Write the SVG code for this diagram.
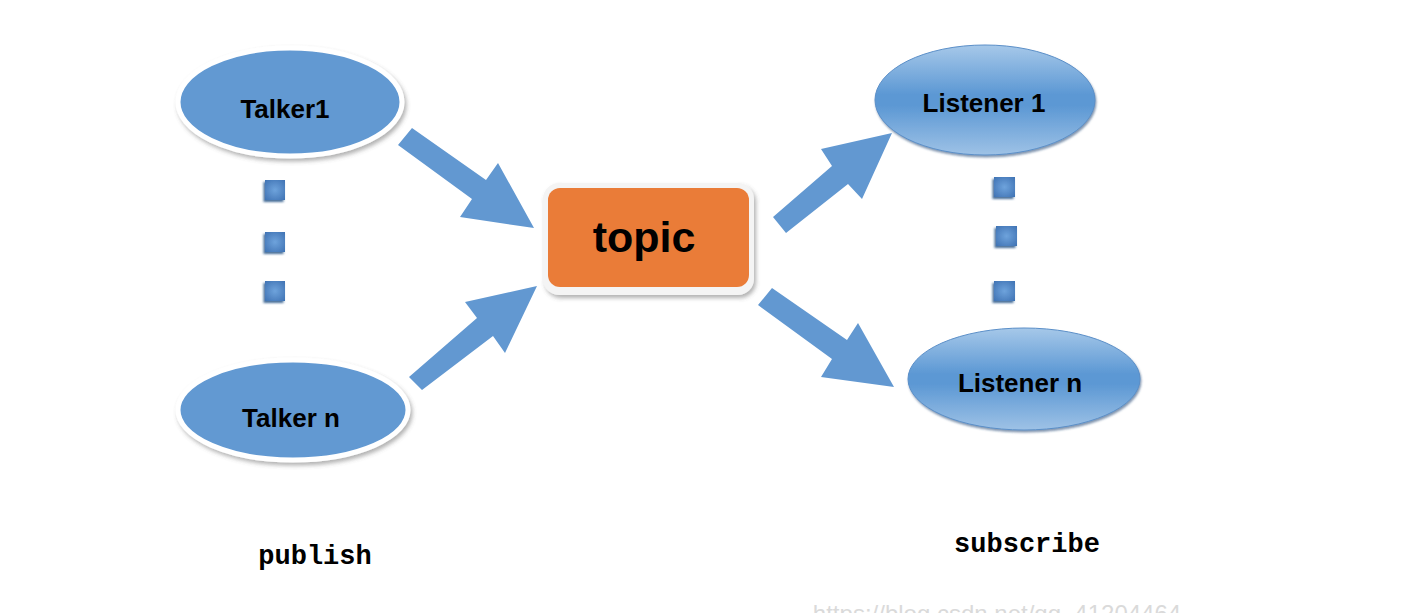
<svg xmlns="http://www.w3.org/2000/svg" width="1424" height="613" viewBox="0 0 1424 613">
<defs>
<style>
.lbl{font-family:"Liberation Sans",Arial,sans-serif;font-weight:bold;font-size:26px;fill:#000;text-anchor:middle}
.cap{font-family:"Liberation Mono","Courier New",monospace;font-weight:bold;font-size:27px;fill:#000;text-anchor:middle}
.arrow{fill:#6298d1}
.talker{fill:#6299d2;stroke:#ffffff;stroke-width:5}
.listener{fill:url(#lg);stroke:#5b8fc8;stroke-width:1}
</style>
<linearGradient id="lg" x1="0" y1="0" x2="0" y2="1">
<stop offset="0" stop-color="#a6c8e9"/>
<stop offset="0.45" stop-color="#5c98d4"/>
<stop offset="0.55" stop-color="#5c98d4"/>
<stop offset="1" stop-color="#9ec2e6"/>
</linearGradient>
<radialGradient id="sq" cx="0.5" cy="0.5" r="0.7">
<stop offset="0" stop-color="#6ea3dc"/>
<stop offset="1" stop-color="#3f72b3"/>
</radialGradient>
<filter id="sh" x="-10%" y="-10%" width="125%" height="130%">
<feDropShadow dx="2" dy="3" stdDeviation="2" flood-color="#555" flood-opacity="0.45"/>
</filter>
<filter id="sh2" x="-10%" y="-10%" width="125%" height="130%">
<feDropShadow dx="1" dy="2" stdDeviation="1.2" flood-color="#2a4f7a" flood-opacity="0.6"/>
</filter>
<filter id="sh3" x="-30%" y="-30%" width="160%" height="160%">
<feDropShadow dx="-1.5" dy="2" stdDeviation="0.8" flood-color="#1f4a80" flood-opacity="0.8"/>
</filter>
</defs>
<rect width="1424" height="613" fill="#ffffff"/>

<g id="connectors">
<polygon class="arrow" points="412,128 486,180 498,163 534,228 460,217 472,199 398,145"/>
<polygon class="arrow" points="422,390 493,336 505,353 537,286 465,302 477,318 409,377"/>
<polygon class="arrow" points="786,233 848,184 862,199 892,133 821,149 832,166 773,217"/>
<polygon class="arrow" points="772,288 847,340 858,323 894,387 821,377 832,359 758,305"/>
</g>

<g id="talker1">
<ellipse class="talker" cx="290" cy="102" rx="112" ry="54" filter="url(#sh)"/>
<text class="lbl" x="285" y="118">Talker1</text>
</g>

<g id="talkern">
<ellipse class="talker" cx="293" cy="410" rx="115" ry="50" filter="url(#sh)"/>
<text class="lbl" x="291" y="427">Talker n</text>
</g>

<g id="talker-dots">
<rect x="265" y="180" width="20" height="20" fill="url(#sq)" filter="url(#sh3)"/>
<rect x="265" y="232" width="20" height="20" fill="url(#sq)" filter="url(#sh3)"/>
<rect x="265" y="281" width="20" height="20" fill="url(#sq)" filter="url(#sh3)"/>
</g>

<g id="topic">
<rect x="543" y="183" width="211" height="112" rx="16" fill="#f4f4f4" filter="url(#sh)"/>
<rect x="548" y="188" width="201" height="99" rx="12" fill="#ea7c38"/>
<text x="644" y="252" font-family="Liberation Sans,Arial,sans-serif" font-weight="bold" font-size="43" text-anchor="middle" fill="#000">topic</text>
</g>

<g id="listener1">
<ellipse class="listener" cx="985" cy="100" rx="110" ry="55" filter="url(#sh2)"/>
<text class="lbl" x="984" y="112">Listener 1</text>
</g>

<g id="listenern">
<ellipse class="listener" cx="1024" cy="379" rx="116" ry="51" filter="url(#sh2)"/>
<text class="lbl" x="1020" y="392">Listener n</text>
</g>

<g id="listener-dots">
<rect x="994" y="177" width="21" height="20" fill="url(#sq)" filter="url(#sh3)"/>
<rect x="996" y="226" width="21" height="20" fill="url(#sq)" filter="url(#sh3)"/>
<rect x="994" y="281" width="21" height="20" fill="url(#sq)" filter="url(#sh3)"/>
</g>

<g id="captions">
<text class="cap" x="315" y="564">publish</text>
<text class="cap" x="1027" y="552">subscribe</text>
<text x="997" y="622" font-family="Liberation Sans,Arial,sans-serif" font-size="24" text-anchor="middle" fill="#dadada">https://blog.csdn.net/qq_41204464</text>
</g>
</svg>
